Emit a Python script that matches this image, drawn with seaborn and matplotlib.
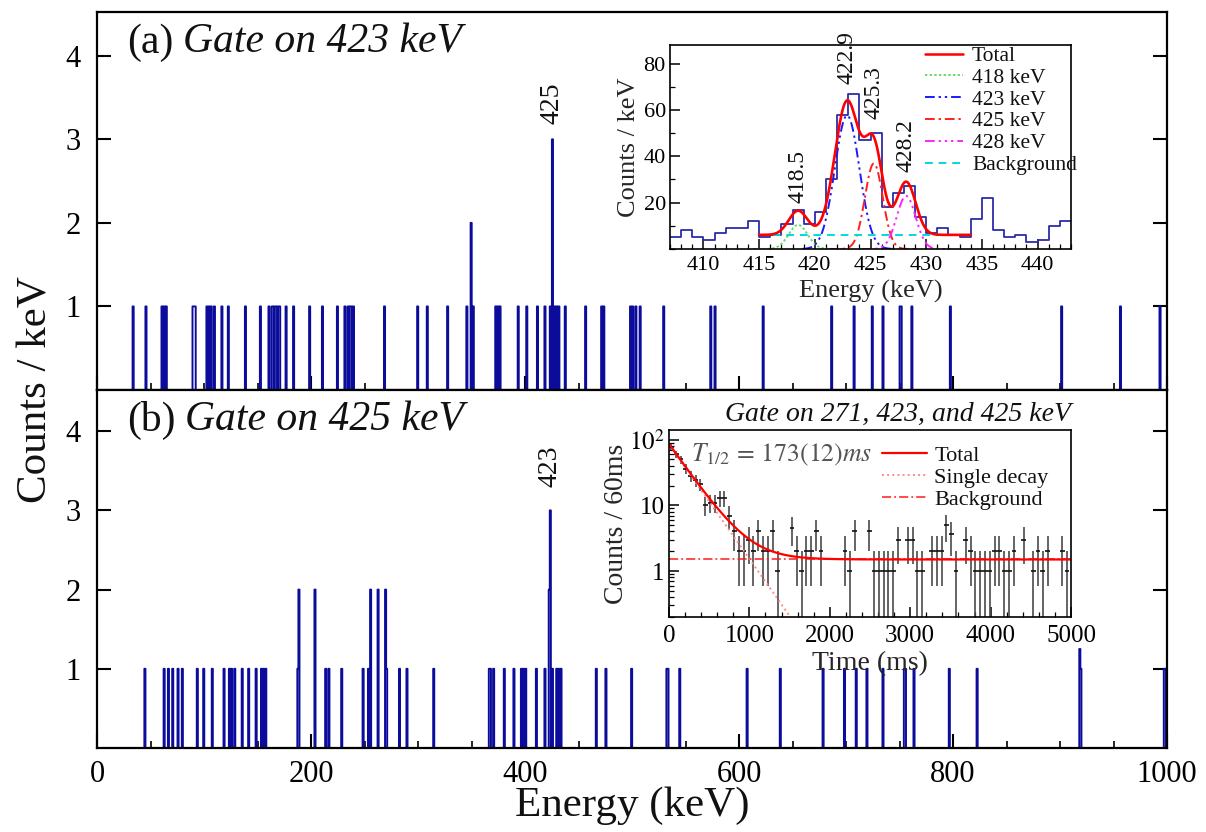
import numpy as np
import pandas as pd
import matplotlib
matplotlib.use("Agg")
import matplotlib.pyplot as plt
import seaborn as sns
from matplotlib.ticker import MultipleLocator, FixedLocator, LogLocator, NullFormatter
from matplotlib.lines import Line2D

# ---------------- data ----------------
# (a) gate on 423 keV : 1-keV bins (lower edge, keV) and counts
gate423_energy = [33, 45, 60, 62, 64, 89, 90, 91, 102, 104, 106, 109, 116, 122, 138, 152, 160,
                  163, 164, 166, 167, 169, 170, 176, 183, 198, 210, 224, 231, 234, 236, 237, 239,
                  268, 299, 308, 327, 345, 349, 351, 372, 374, 376, 393, 401, 411, 418, 423, 425,
                  427, 429, 431, 437, 456, 471, 473, 498, 500, 503, 507, 529, 573, 577, 622, 686,
                  707, 724, 734, 750, 751, 761, 797, 901, 956, 993]
gate423_counts = [1, 1, 1, 1, 1, 1, 1, 1, 1, 1, 1, 1, 1, 1, 1, 1, 1,
                  1, 1, 1, 1, 1, 1, 1, 1, 1, 1, 1, 1, 1, 1, 1, 1,
                  1, 1, 1, 1, 1, 2, 1, 1, 1, 1, 1, 1, 1, 1, 1, 3,
                  1, 1, 1, 1, 1, 1, 1, 1, 1, 1, 1, 1, 1, 1, 1, 1,
                  1, 1, 1, 1, 1, 1, 1, 1, 1, 1]

# (b) gate on 425 keV
gate425_energy = [44, 62, 66, 70, 75, 79, 93, 99, 107, 118, 123, 125, 128, 135, 141, 148, 153,
                  155, 157, 187, 188, 203, 213, 216, 228, 248, 253, 255, 262, 269, 270, 282, 289,
                  314, 366, 367, 370, 380, 389, 396, 398, 400, 410, 418, 422, 423, 425, 429, 431,
                  433, 466, 475, 499, 532, 533, 544, 607, 638, 678, 698, 709, 719, 734, 754, 755,
                  763, 796, 822, 918, 919, 997, 998]
gate425_counts = [1, 1, 1, 1, 1, 1, 1, 1, 1, 1, 1, 1, 1, 1, 1, 1, 1,
                  1, 1, 1, 2, 2, 1, 1, 1, 1, 1, 2, 2, 2, 1, 1, 1,
                  1, 1, 1, 1, 1, 1, 1, 1, 1, 1, 1, 2, 3, 1, 1, 1,
                  1, 1, 1, 1, 1, 1, 1, 1, 1, 1, 1, 1, 1, 1, 1, 1,
                  1, 1, 1, 1.25, 1, 1, 1]

# inset (a): zoomed spectrum 407-443 keV
inset_bin_low = list(range(407, 443))
inset_counts = [5, 8, 5, 4, 7, 9, 9, 12, 5, 6, 11, 17, 11, 16, 30, 58, 67, 47, 50, 18,
                24, 27, 14, 7, 9, 6, 5, 13, 22, 8, 5, 6, 3, 4, 10, 12]
peak_centroid = [418.5, 422.9, 425.3, 428.2]
peak_amplitude = [10.4, 57.6, 36.9, 22.9]
peak_sigma = [0.85, 1.1, 0.8, 0.85]
peak_names = ["418 keV", "423 keV", "425 keV", "428 keV"]
peak_text = ["418.5", "422.9", "425.3", "428.2"]
peak_text_y = [20, 71, 56, 33]
fit_background = 6.1
fit_lo, fit_hi = 415, 434

# inset (b): decay curve, 60 ms bins
decay_time = [30, 90, 150, 210, 270, 330, 390, 450, 510, 570, 630, 690, 750, 810, 870, 930,
              990, 1050, 1110, 1170, 1230, 1290, 1350, 1530, 1590, 1650, 1710, 1770, 1830,
              1890, 2190, 2250, 2310, 2490, 2550, 2610, 2670, 2730, 2790, 2850, 2970, 3030,
              3090, 3150, 3270, 3330, 3390, 3450, 3510, 3570, 3690, 3750, 3810, 3870, 3930,
              3990, 4050, 4110, 4170, 4230, 4290, 4410, 4530, 4590, 4650, 4710, 4890, 4950]
decay_counts = [78, 60, 50, 36, 28, 24, 21, 10, 11, 11, 13, 13, 7, 4, 2, 2,
                3, 2, 4, 2, 2, 4, 1, 4.5, 2, 1, 2, 2, 4,
                2, 2, 1, 4, 4, 1, 1, 1, 1, 1, 3, 3, 3,
                1, 1, 2, 2, 2, 5, 3.6, 1, 3, 2, 1, 1, 1,
                1, 2, 2, 1, 1, 2, 3, 1, 2, 1, 2, 2, 1]
half_life = 173.0
decay_amp = 84.5
decay_bg = 1.5

# ---------------- style ----------------
sns.set_theme(style="ticks")
plt.rcParams["font.family"] = ["Liberation Serif", "DejaVu Serif"]
plt.rcParams["mathtext.fontset"] = "stix"
plt.rcParams["axes.edgecolor"] = "black"
plt.rcParams["xtick.color"] = "black"
plt.rcParams["ytick.color"] = "black"
plt.rcParams["text.color"] = "#111111"

W, H = 1206, 832
fig = plt.figure(figsize=(W / 100, H / 100), dpi=100)


def add_px_axes(x0, y0, x1, y1):
    return fig.add_axes([x0 / W, 1 - y1 / H, (x1 - x0) / W, (y1 - y0) / H])


HIST = "#0c0c9c"
ax_top = add_px_axes(97.3, 12.3, 1167, 390)
ax_bot = add_px_axes(97.3, 390, 1167, 748)

for ax, en, ct in [(ax_top, gate423_energy, gate423_counts),
                   (ax_bot, gate425_energy, gate425_counts)]:
    df = pd.DataFrame({"energy": np.asarray(en, float) + 0.5, "counts": np.asarray(ct, float)})
    sns.histplot(data=df, x="energy", weights="counts", binwidth=1, binrange=(0, 1000),
                 element="step", fill=False, color=HIST, linewidth=1.4, ax=ax)
    ax.set_xlim(0, 1000)
    ax.set_ylim(0, 4.52)
    ax.set_xlabel("")
    ax.set_ylabel("")
    ax.xaxis.set_major_locator(MultipleLocator(200))
    ax.xaxis.set_minor_locator(MultipleLocator(50))
    ax.yaxis.set_major_locator(FixedLocator([1, 2, 3, 4]))
    ax.tick_params(which="both", direction="in", top=False, right=True, labelsize=22)
    ax.tick_params(which="major", length=10, width=1.5)
    ax.tick_params(which="minor", length=5, width=1.2)
    ax.tick_params(axis="y", pad=12)
    ax.tick_params(axis="x", pad=9)
    for s in ax.spines.values():
        s.set_linewidth(1.6)
        s.set_color("black")

ax_top.tick_params(axis="x", labelbottom=False)

for ax, tag, gate, ypos in [(ax_top, "(a)", "Gate on 423 keV", 0.92),
                            (ax_bot, "(b)", "Gate on 425 keV", 0.915)]:
    t1 = ax.text(0.028, ypos, tag, transform=ax.transAxes, fontsize=30, ha="left", va="center")
    ax.annotate(gate, xy=(1, 0), xycoords=t1, xytext=(7, 0), textcoords="offset points",
                fontsize=30, style="italic", ha="left", va="bottom")

ax_top.text(425.5, 3.18, "425", rotation=90, ha="center", va="bottom", fontsize=20)
ax_bot.text(423.5, 3.3, "423", rotation=90, ha="center", va="bottom", fontsize=20)

fig.text(36 / W, 1 - 390 / H, "Counts / keV", rotation=90, ha="center", va="center", fontsize=31)
fig.text(632 / W, 1 - 806 / H, "Energy (keV)", ha="center", va="center", fontsize=31)

# ---------------- inset (a) ----------------
axa = add_px_axes(670, 45, 1071, 249)
axa.set_facecolor("white")
dfa = pd.DataFrame({"energy": np.asarray(inset_bin_low, float) + 0.5,
                    "counts": np.asarray(inset_counts, float)})
sns.histplot(data=dfa, x="energy", weights="counts", binwidth=1, binrange=(407, 443),
             element="step", fill=False, color="#2c2ca6", linewidth=1.3, ax=axa)

comp_colors = ["#66dd66", "#1a1aff", "#ff2020", "#ff22ff"]
comp_styles = [(0, (1.2, 1.2)), (0, (5, 2, 1.2, 2, 1.2, 2)), (0, (5, 2, 1.2, 2)),
               (0, (5, 2, 1.2, 2, 1.2, 2, 1.2, 2))]
xfit = np.linspace(fit_lo, fit_hi, 600)
total = np.full_like(xfit, fit_background)
for c, a, s, col, ls in zip(peak_centroid, peak_amplitude, peak_sigma, comp_colors, comp_styles):
    total += a * np.exp(-0.5 * ((xfit - c) / s) ** 2)
    xg = np.linspace(c - 4, c + 4, 300)
    sns.lineplot(x=xg, y=a * np.exp(-0.5 * ((xg - c) / s) ** 2), color=col, linestyle=ls,
                 linewidth=1.4, ax=axa, legend=False)
sns.lineplot(x=[fit_lo, fit_hi], y=[fit_background, fit_background], color="#00d8e0",
             linestyle=(0, (4, 3)), linewidth=1.4, ax=axa, legend=False)
sns.lineplot(x=xfit, y=total, color="#ff0000", linewidth=1.9, ax=axa, legend=False)

for c, t, ty in zip(peak_centroid, peak_text, peak_text_y):
    axa.text(c, ty, t, rotation=90, ha="center", va="bottom", fontsize=17, clip_on=False)

axa.set_xlim(407, 443)
axa.set_ylim(0, 88)
axa.xaxis.set_major_locator(MultipleLocator(5))
axa.xaxis.set_minor_locator(MultipleLocator(1))
axa.yaxis.set_major_locator(FixedLocator([20, 40, 60, 80]))
axa.yaxis.set_minor_locator(MultipleLocator(10))
axa.tick_params(which="both", direction="in", labelsize=16)
axa.tick_params(which="major", length=7, width=1.1)
axa.tick_params(which="minor", length=3.5, width=0.9)
axa.tick_params(axis="x", pad=5)
axa.tick_params(axis="y", pad=3)
for s in axa.spines.values():
    s.set_linewidth(1.2)
    s.set_color("black")
axa.set_xlabel("Energy (keV)", fontsize=19)
axa.set_ylabel("Counts / keV", fontsize=19)
axa.xaxis.set_label_coords(0.5, -0.15)
axa.yaxis.set_label_coords(-0.075, 0.5)

handles_a = [Line2D([], [], color="#ff0000", lw=1.8)] + \
    [Line2D([], [], color=col, linestyle=ls, lw=1.4) for col, ls in zip(comp_colors, comp_styles)] + \
    [Line2D([], [], color="#00d8e0", linestyle=(0, (4, 3)), lw=1.4)]
axa.legend(handles_a, ["Total"] + peak_names + ["Background"], loc="upper left",
           bbox_to_anchor=(0.635, 0.995), frameon=False, fontsize=15.5, handlelength=1.8,
           handletextpad=0.4, labelspacing=0.08, borderpad=0, borderaxespad=0)

# ---------------- inset (b) ----------------
axb = add_px_axes(669, 430, 1071, 617)
axb.set_facecolor("white")
axb.set_yscale("log")
dcounts = np.asarray(decay_counts, float)
axb.errorbar(decay_time, dcounts, yerr=np.sqrt(dcounts), fmt="none", ecolor="#4a4a4a",
             elinewidth=1.2, capsize=0)
axb.errorbar(decay_time, dcounts, xerr=30, fmt="none", ecolor="#111111", elinewidth=1.2,
             capsize=0)
tt = np.linspace(0, 5000, 1200)
ts = np.linspace(0, 1700, 400)
sns.lineplot(x=ts, y=decay_amp * 2 ** (-ts / half_life), color="#ff8a8a", linestyle=":",
             linewidth=1.4, ax=axb, legend=False)
sns.lineplot(x=[0, 5000], y=[decay_bg, decay_bg], color="#ff1a1a", linestyle=(0, (6, 2, 1.2, 2)),
             linewidth=1.1, ax=axb, legend=False)
sns.lineplot(x=tt, y=decay_amp * 2 ** (-tt / half_life) + decay_bg, color="#ff0000",
             linewidth=1.6, ax=axb, legend=False)
axb.set_xlim(0, 5000)
axb.set_ylim(0.2, 140)
axb.xaxis.set_major_locator(MultipleLocator(1000))
axb.xaxis.set_minor_locator(MultipleLocator(200))
axb.yaxis.set_major_locator(FixedLocator([1, 10, 100]))
axb.set_yticklabels(["1", "10", r"$10^{2}$"])
axb.yaxis.set_minor_locator(LogLocator(base=10, subs=np.arange(2, 10)))
axb.yaxis.set_minor_formatter(NullFormatter())
axb.tick_params(which="both", direction="in", labelsize=18)
axb.tick_params(which="major", length=7, width=1.1)
axb.tick_params(which="minor", length=3.5, width=0.9)
axb.tick_params(axis="x", pad=6)
axb.tick_params(axis="y", pad=3)
for s in axb.spines.values():
    s.set_linewidth(1.2)
    s.set_color("black")
axb.set_xlabel("Time (ms)", fontsize=20)
axb.set_ylabel("Counts / 60ms", fontsize=20)
axb.xaxis.set_label_coords(0.5, -0.18)
axb.yaxis.set_label_coords(-0.1, 0.5)
axb.text(0.055, 0.865, r"$T_{1/2}\,=\,173(12)ms$", transform=axb.transAxes, fontsize=18.5,
         color="#555555", ha="left", va="center")
fig.text(1071 / W, 1 - 414 / H, "Gate on 271, 423, and 425 keV", style="italic",
         ha="right", va="center", fontsize=20)

handles_b = [Line2D([], [], color="#ff0000", lw=1.6),
             Line2D([], [], color="#ff8a8a", linestyle=":", lw=1.4),
             Line2D([], [], color="#ff1a1a", linestyle=(0, (6, 2, 1.2, 2)), lw=1.1)]
axb.legend(handles_b, ["Total", "Single decay", "Background"], loc="upper left",
           bbox_to_anchor=(0.53, 0.92), frameon=False, fontsize=16, handlelength=2.0,
           handletextpad=0.35, labelspacing=0.08, borderpad=0, borderaxespad=0)

fig.savefig("out.png", dpi=100, facecolor="white")
